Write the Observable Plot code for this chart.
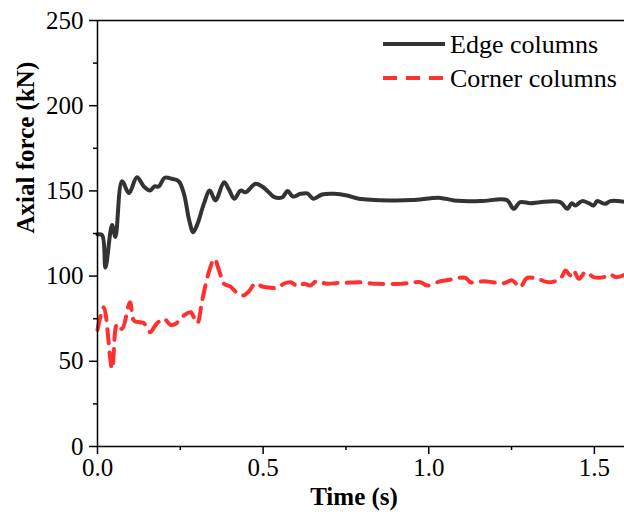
<!DOCTYPE html>
<html><head><meta charset="utf-8">
<script src="https://cdn.jsdelivr.net/npm/d3@7"></script>
<script src="https://cdn.jsdelivr.net/npm/@observablehq/plot@0.6"></script>
<style>body{margin:0;background:#fff}</style>
</head><body><div id="chart"></div>
<script>
const edgeTime = [0,0.014,0.024,0.044,0.054,0.074,0.095,0.119,0.140,0.158,0.172,0.185,0.203,0.225,0.245,0.261,0.277,0.289,0.302,0.321,0.339,0.356,0.382,0.396,0.413,0.432,0.447,0.477,0.497,0.517,0.534,0.558,0.574,0.590,0.613,0.633,0.652,0.678,0.714,0.753,0.789,0.885,0.950,1.035,1.076,1.156,1.236,1.256,1.276,1.307,1.336,1.397,1.418,1.432,1.442,1.463,1.483,1.498,1.508,1.533,1.548,1.6];
const edgeForce = [124.4,124,105,130,123,155.7,148.7,158,152.6,150.2,152.6,152.6,157.7,157.1,155.7,148.3,132.6,125.8,130.7,142.4,150.2,144.4,155.1,151.2,145.4,150.2,149.2,154.2,152.6,149.2,146.3,146.3,149.9,146.7,148.3,148.5,145.4,147.9,148.3,147.3,145.4,144.4,144.6,145.9,144.4,144,144.6,139.5,143.4,142.8,143.4,143.4,139.5,142.8,141.4,144,142.8,141.4,144,142.4,144,143.4];
const cornerTime = [0,0.019,0.044,0.059,0.074,0.098,0.110,0.129,0.140,0.158,0.180,0.201,0.220,0.235,0.261,0.281,0.301,0.316,0.336,0.353,0.367,0.382,0.401,0.422,0.440,0.457,0.477,0.497,0.517,0.543,0.562,0.583,0.606,0.623,0.643,0.661,0.693,0.724,0.764,0.789,0.844,0.919,0.975,0.995,1.035,1.061,1.111,1.126,1.166,1.227,1.252,1.276,1.297,1.336,1.362,1.397,1.413,1.427,1.437,1.453,1.473,1.498,1.528,1.548,1.564,1.6];
const cornerForce = [68.5,81.7,45.6,72,69,84.7,73.9,72.9,72.4,67.1,72.4,74.9,71.4,71.9,76.9,78.8,72.4,85.7,102.3,110.1,103.3,95.5,93.9,90,88.6,91.1,95.8,93.9,93.3,93.1,95.5,96.4,93.9,95.5,94.5,97,95.5,96,96.2,96.4,95.5,95.5,96.4,94.5,97,97.8,99,96.4,97,95.8,97.5,93.5,99,97.8,96.4,98.4,103.3,100.4,103.3,98.4,102.3,99.4,99.4,101,99.4,101.4];
const seriesNames = ["Edge columns", "Corner columns"];
const xDomain = [0, 1.6];
const yDomain = [0, 250];
const xMajor = [0, 0.5, 1.0, 1.5];
const xMinor = [0.25, 0.75, 1.25];
const yMajor = [0, 50, 100, 150, 200, 250];
const yMinor = [25, 75, 125, 175, 225];
const xTitle = "Time (s)";
const yTitle = "Axial force (kN)";

const edge = edgeTime.map((t, i) => ({t, f: edgeForce[i]}));
const corner = cornerTime.map((t, i) => ({t, f: cornerForce[i]}));
const font = "'Liberation Serif', 'Times New Roman', serif";
const edgeColor = "#333333", cornerColor = "#ff3030";

const plot = Plot.plot({
  width: 624, height: 517,
  marginLeft: 97, marginRight: 0, marginTop: 20, marginBottom: 71,
  style: {fontFamily: font, background: "#fff", color: "#000"},
  x: {domain: xDomain, range: [97, 627]},
  y: {domain: yDomain},
  marks: [
    Plot.line(corner, {x: "t", y: "f", stroke: cornerColor, strokeWidth: 4, strokeDasharray: "14,9", curve: "catmull-rom"}),
    Plot.line(edge, {x: "t", y: "f", stroke: edgeColor, strokeWidth: 4, curve: "catmull-rom"}),
    Plot.axisX({ticks: xMajor, tickSize: 8, tickPadding: 4, tickFormat: d3.format(".1f"), fontSize: 25, strokeWidth: 1.5, label: null}),
    Plot.axisX({ticks: xMinor, tickSize: 4, tickFormat: () => "", strokeWidth: 1.5, label: null}),
    Plot.axisY({ticks: yMajor, tickSize: 8, tickPadding: 6, fontSize: 25, strokeWidth: 1.5, label: null}),
    Plot.axisY({ticks: yMinor, tickSize: 4, tickFormat: () => "", strokeWidth: 1.5, label: null}),
    Plot.ruleX([xDomain[0]], {stroke: "#000", strokeWidth: 1.5}),
    Plot.ruleY([yDomain[0]], {stroke: "#000", strokeWidth: 1.5}),
    Plot.ruleY([yDomain[1]], {stroke: "#000", strokeWidth: 1.5}),
    Plot.text([xTitle], {frameAnchor: "bottom", dx: -7, dy: 58, fontSize: 25, fontWeight: "bold", fill: "#000"}),
    Plot.text([yTitle], {frameAnchor: "left", rotate: -90, dx: -72, fontSize: 25, fontWeight: "bold", fill: "#000"})
  ]
});
document.getElementById("chart").appendChild(plot);

// legend
const svg = d3.select(plot);
const lg = svg.append("g").attr("font-family", font).attr("font-size", 26).attr("text-anchor", "start");
const styles = [{stroke: edgeColor, dash: null}, {stroke: cornerColor, dash: "14,9"}];
seriesNames.forEach((name, i) => {
  const y = 44 + i * 34;
  lg.append("line").attr("x1", 383).attr("x2", 445).attr("y1", y).attr("y2", y)
    .attr("stroke", styles[i].stroke).attr("stroke-width", 4)
    .attr("stroke-dasharray", styles[i].dash);
  lg.append("text").attr("x", 450).attr("y", y + 9).attr("fill", "#000").text(name);
});
</script>
</body></html>
